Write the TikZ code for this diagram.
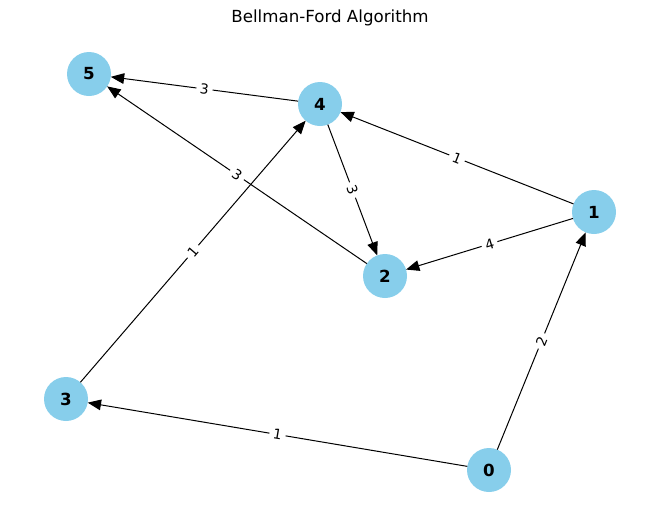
\documentclass[tikz,border=0pt]{standalone}
\usepackage{fontspec}
\setmainfont{DejaVu Sans}
\usetikzlibrary{arrows.meta}
\definecolor{nodeblue}{HTML}{87CEEB}
\tikzset{
  vtx/.style={circle, fill=nodeblue, minimum size=33pt, inner sep=0pt, outer sep=0pt, font=\fontsize{12.5}{14}\selectfont\bfseries},
  edg/.style={-{Triangle[length=10pt,width=8pt]}, line width=0.75pt, black},
  wlab/.style={midway, sloped, fill=white, inner sep=2.8pt, font=\fontsize{10.4}{12}\selectfont}
}
\begin{document}
\begin{tikzpicture}[x=0.75pt,y=-0.75pt]
\useasboundingbox (0,0) rectangle (660,522);
\node[font=\fontsize{12.5}{15}\selectfont] (title) at (330,18) {Bellman-Ford Algorithm};
\node[vtx] (n0) at (489,470) {0};
\node[vtx] (n1) at (594,212) {1};
\node[vtx] (n2) at (385,276) {2};
\node[vtx] (n3) at (66,399) {3};
\node[vtx] (n4) at (320,104) {4};
\node[vtx] (n5) at (89,74) {5};
\draw[edg] (n4) -- (n5) node[wlab] {3};
\draw[edg] (n1) -- (n4) node[wlab] {1};
\draw[edg] (n1) -- (n2) node[wlab] {4};
\draw[edg] (n4) -- (n2) node[wlab] {3};
\draw[edg] (n2) -- (n5) node[wlab] {3};
\draw[edg] (n3) -- (n4) node[wlab] {1};
\draw[edg] (n0) -- (n3) node[wlab] {1};
\draw[edg] (n0) -- (n1) node[wlab] {2};
\end{tikzpicture}
\end{document}
